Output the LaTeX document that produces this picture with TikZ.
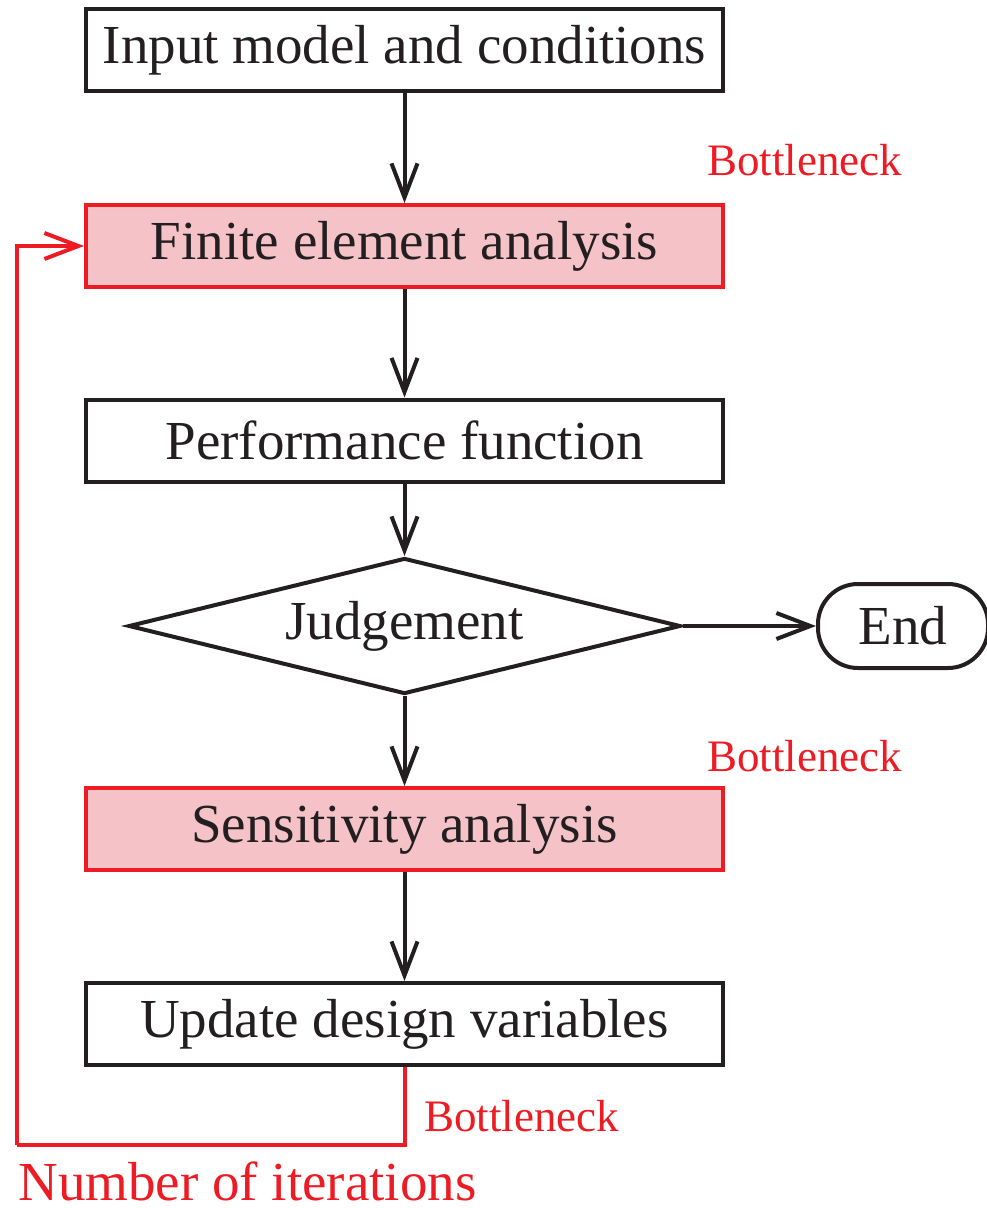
\documentclass[tikz,border=0pt]{standalone}
\usepackage{fontspec}
\setmainfont{Liberation Serif}
\usetikzlibrary{arrows.meta,shapes.geometric}
\definecolor{inkblack}{HTML}{231F20}
\definecolor{alertred}{HTML}{ED1C24}
\definecolor{alertfill}{HTML}{F4C2C7}
\tikzset{
  every node/.style={text=inkblack, font=\fontsize{27.5}{33}\selectfont},
  procbox/.style={draw=inkblack, line width=2pt, minimum width=318.5pt, minimum height=41pt, inner sep=0pt},
  hotbox/.style={procbox, draw=alertred, fill=alertfill},
  decide/.style={diamond, draw=inkblack, line width=2pt, minimum width=276pt, minimum height=68pt, aspect=4, inner sep=0pt},
  terminal/.style={draw=inkblack, line width=2pt, rounded corners=20pt, minimum width=85pt, minimum height=42pt, inner sep=0pt},
  flow/.style={draw=inkblack, line width=2pt, -{Straight Barb[length=17pt,width=13pt,line width=2pt]}},
  loopline/.style={draw=alertred, line width=2pt},
  note/.style={text=alertred, font=\fontsize{22.5}{27}\selectfont, inner sep=0pt, anchor=base west},
  bignote/.style={text=alertred, font=\fontsize{27.5}{33}\selectfont, inner sep=0pt, text depth=0pt, anchor=base west}
}
\begin{document}
\begin{tikzpicture}[x=0.5pt, y=-0.5pt]
  \useasboundingbox (0,0) rectangle (986,1208);

  % main chain of steps
  \node[procbox] (input) at (404.5,50) {Input model and conditions};
  \node[hotbox]  (fea)   at (404.5,246) {Finite element analysis};
  \node[procbox] (perf)  at (404.5,440.5) {Performance function};
  \node[decide]  (judge) at (404.5,626) {Judgement};
  \node[terminal] (fin)  at (903,626) {End};
  \node[hotbox]  (sens)  at (404.5,829) {Sensitivity analysis};
  \node[procbox] (upd)   at (404.5,1024) {Update design variables};

  % red annotations
  \node[note] (bn1) at (707,176) {Bottleneck};
  \node[note] (bn2) at (707,771) {Bottleneck};
  \node[note] (bn3) at (424,1131) {Bottleneck};
  \node[bignote] (iter) at (18,1200) {Number of iterations};

  % forward flow
  \draw[flow] (input) -- (fea);
  \draw[flow] (fea) -- (perf);
  \draw[flow] (perf) -- (judge);
  \draw[flow] (judge) -- (fin);
  \draw[flow] (judge) -- (sens);
  \draw[flow] (sens) -- (upd);

  % iteration loop back to the analysis step
  \coordinate (loopA) at (404.5,1145);
  \coordinate (loopB) at (17,1145);
  \draw[loopline] (upd.south) -- (loopA) -- (loopB);
  \draw[loopline, -{Straight Barb[length=17pt,width=13pt,line width=2pt]}] (loopB) |- (fea.west);
\end{tikzpicture}
\end{document}
